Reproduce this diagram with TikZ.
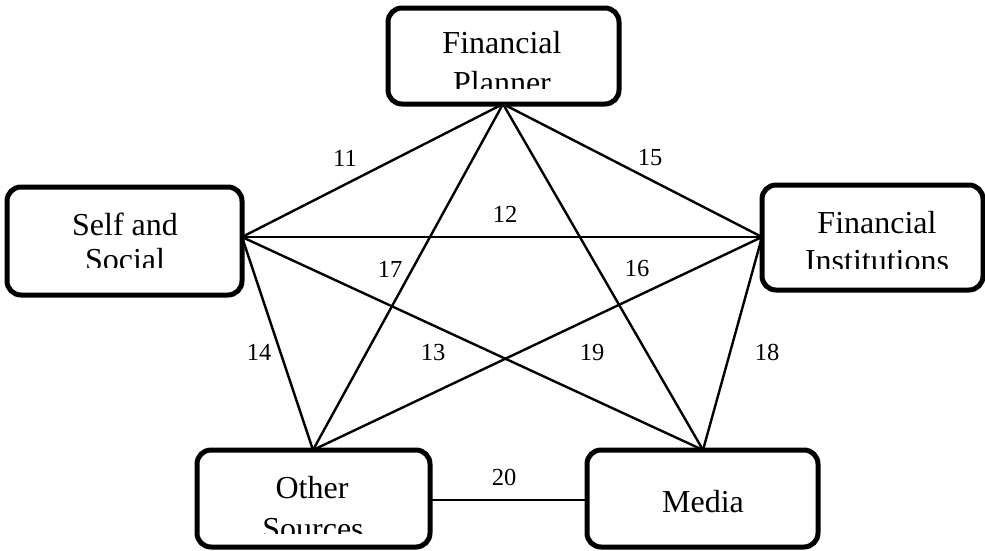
\documentclass[tikz,border=0pt]{standalone}
\usepackage{fontspec}
\setmainfont{Liberation Serif}
\begin{document}
\begin{tikzpicture}[x=1pt,y=-1pt,
  box/.style={draw=black,line width=5pt,rounded corners=14pt,fill=none},
  conn/.style={line width=2.4pt},
  boxtxt/.style={anchor=base,inner sep=0pt,font=\fontsize{32}{36}\selectfont},
  lab/.style={inner sep=0pt,font=\fontsize{24.5}{28}\selectfont}]
\useasboundingbox (0,0) rectangle (985,550);
% boxes
\draw[box] (388,8) rectangle (619,104);
\draw[box] (7,187) rectangle (242,295);
\draw[box] (762,185) rectangle (983,290);
\draw[box] (197,450) rectangle (430,547);
\draw[box] (587,450) rectangle (818,547);
% anchor coordinates
\coordinate (fp) at (503,104);
\coordinate (ss) at (242,237);
\coordinate (fi) at (762,237);
\coordinate (os) at (313,450);
\coordinate (me) at (703,450);
\coordinate (osr) at (430,500);
\coordinate (mel) at (587,500);
% texts
\begin{scope}
\clip (390,10) rectangle (617,88);
\node[boxtxt] (fpt1) at (502,53) {Financial};
\node[boxtxt] (fpt2) at (502,93) {Planner};
\end{scope}
\begin{scope}
\clip (9,189) rectangle (240,267);
\node[boxtxt] (sst1) at (125,235) {Self and};
\node[boxtxt] (sst2) at (125,270) {Social};
\end{scope}
\begin{scope}
\clip (764,187) rectangle (981,268);
\node[boxtxt] (fit1) at (877,233) {Financial};
\node[boxtxt] (fit2) at (877,271) {Institutions};
\end{scope}
\begin{scope}
\clip (199,452) rectangle (428,533);
\node[boxtxt] (ost1) at (312,498) {Other};
\node[boxtxt] (ost2) at (313,539) {Sources};
\end{scope}
\node[boxtxt] (met) at (703,512) {Media};
% connectors
\draw[conn] (fp) -- (ss);
\draw[conn] (fp) -- (fi);
\draw[conn] (fp) -- (os);
\draw[conn] (fp) -- (me);
\draw[conn] (ss) -- (fi);
\draw[conn] (ss) -- (os);
\draw[conn] (ss) -- (me);
\draw[conn] (fi) -- (os);
\draw[conn] (fi) -- (me);
\draw[conn] (osr) -- (mel);
% labels
\node[lab] (l11) at (345,158) {11};
\node[lab] (l15) at (650,158) {15};
\node[lab] (l12) at (505,214) {12};
\node[lab] (l17) at (390,269) {17};
\node[lab] (l16) at (637,269) {16};
\node[lab] (l14) at (259,352) {14};
\node[lab] (l13) at (433,352) {13};
\node[lab] (l19) at (592,352) {19};
\node[lab] (l18) at (767,352) {18};
\node[lab] (l20) at (504,477) {20};
\end{tikzpicture}
\end{document}
